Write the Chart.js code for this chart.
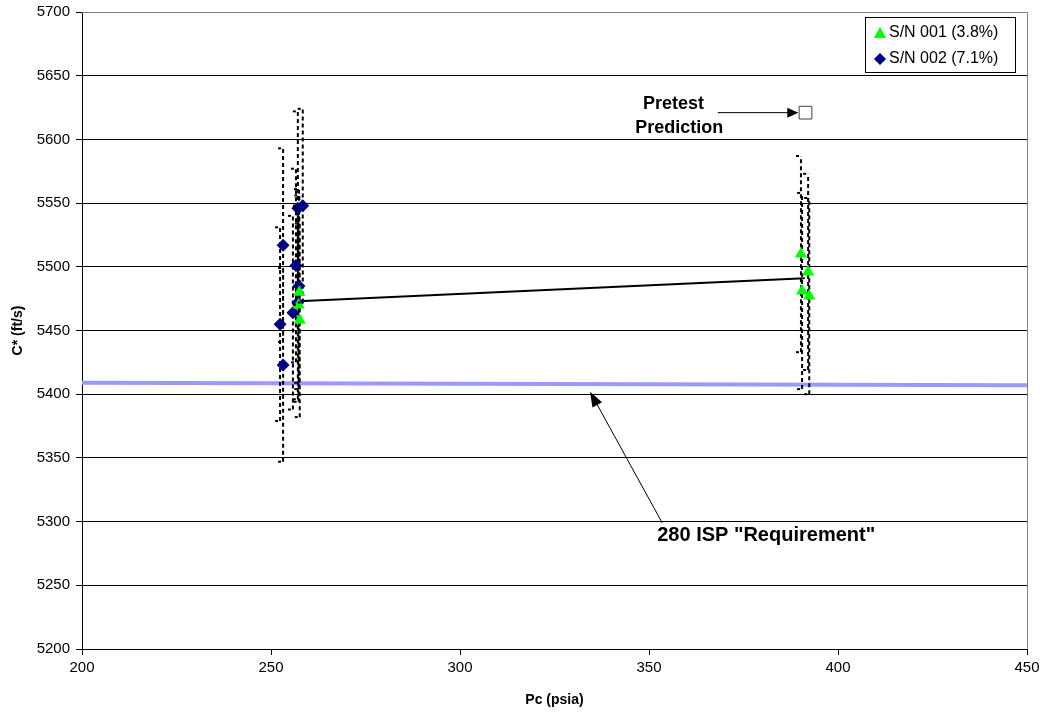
<!DOCTYPE html>
<html>
<head>
<meta charset="utf-8">
<script src="https://cdn.jsdelivr.net/npm/chart.js@4.4.0/dist/chart.umd.min.js"></script>
<style>
  html, body { margin: 0; padding: 0; background: #fff; }
  #wrap { width: 1044px; height: 714px; }
</style>
</head>
<body>
<div id="wrap"><canvas id="chart" width="1044" height="714"></canvas></div>
<script>
// S/N 001 (3.8%) - green triangles
const sn001Pc = [257.5, 257.3, 257.6, 390.2, 392.1, 390.5, 392.4];
const sn001Cstar = [5480, 5470, 5458, 5510, 5496, 5481, 5477];
const sn001Err = [76, 76, 76, 77, 77, 77, 77];

// S/N 002 (7.1%) - navy diamonds
const sn002Pc = [257.1, 258.4, 253.2, 256.6, 257.4, 257.1, 255.8, 252.4, 253.2];
const sn002Cstar = [5546, 5548, 5517, 5501, 5485, 5472, 5464, 5455, 5423];
const sn002Err = [76, 76, 76, 76, 76, 76, 76, 76, 76];

// average line, requirement line, pretest prediction
const avgPc = [257.2, 391.2];
const avgCstar = [5473, 5491];
const reqPc = [200, 450];
const reqCstar = [5409, 5407];
const pretestPc = [391.4];
const pretestCstar = [5621];

const toPoints = (xs, ys) => xs.map((x, i) => ({ x: x, y: ys[i] }));

function errorSegments(xs, ys, errs) {
    const pts = [];
    xs.forEach((x, i) => {
        pts.push({ x: x, y: ys[i] - errs[i] });
        pts.push({ x: x, y: ys[i] + errs[i] });
        pts.push({ x: x, y: null });
    });
    return pts;
}

const errData = errorSegments(sn001Pc, sn001Cstar, sn001Err)
    .concat(errorSegments(sn002Pc, sn002Cstar, sn002Err));

const FONT = '"Liberation Sans", Arial, sans-serif';
Chart.defaults.font.family = FONT;
Chart.defaults.font.size = 15;
Chart.defaults.color = '#000';

function arrow(ctx, x1, y1, x2, y2, head, width) {
    const ang = Math.atan2(y2 - y1, x2 - x1);
    ctx.beginPath();
    ctx.moveTo(x1, y1);
    ctx.lineTo(x2 - Math.cos(ang) * head * 0.8, y2 - Math.sin(ang) * head * 0.8);
    ctx.lineWidth = 1;
    ctx.strokeStyle = '#000';
    ctx.stroke();
    ctx.beginPath();
    ctx.moveTo(x2, y2);
    ctx.lineTo(x2 - Math.cos(ang) * head + Math.sin(ang) * width, y2 - Math.sin(ang) * head - Math.cos(ang) * width);
    ctx.lineTo(x2 - Math.cos(ang) * head - Math.sin(ang) * width, y2 - Math.sin(ang) * head + Math.cos(ang) * width);
    ctx.closePath();
    ctx.fillStyle = '#000';
    ctx.fill();
}

const extras = {
    id: 'extras',
    afterDatasetsDraw(chart) {
        const ctx = chart.ctx;
        const xs = chart.scales.x, ys = chart.scales.y;
        const a = chart.chartArea;
        ctx.save();

        // error bar caps
        ctx.strokeStyle = '#000';
        ctx.lineWidth = 2;
        const caps = (pcs, cs, es) => pcs.forEach((p, i) => {
            const px = xs.getPixelForValue(p);
            [cs[i] - es[i], cs[i] + es[i]].forEach(v => {
                const py = ys.getPixelForValue(v);
                ctx.beginPath();
                ctx.moveTo(px - 5, py);
                ctx.lineTo(px - 2, py);
                ctx.stroke();
            });
        });
        caps(sn001Pc, sn001Cstar, sn001Err);
        caps(sn002Pc, sn002Cstar, sn002Err);

        // plot frame (top/right)
        ctx.strokeStyle = '#808080';
        ctx.lineWidth = 1;
        ctx.beginPath();
        ctx.moveTo(a.left, a.top + 0.5);
        ctx.lineTo(a.right + 0.5, a.top + 0.5);
        ctx.lineTo(a.right + 0.5, a.bottom);
        ctx.stroke();

        // annotations
        ctx.fillStyle = '#000';
        ctx.font = 'bold 18px ' + FONT;
        ctx.textAlign = 'center';
        ctx.textBaseline = 'middle';
        ctx.fillText('Pretest', xs.getPixelForValue(356.5), ys.getPixelForValue(5628));
        ctx.fillText('Prediction', xs.getPixelForValue(358), ys.getPixelForValue(5609));
        arrow(ctx, xs.getPixelForValue(368.2), ys.getPixelForValue(5621),
            xs.getPixelForValue(389.5), ys.getPixelForValue(5621), 11, 5);

        ctx.font = 'bold 20px ' + FONT;
        ctx.fillText('280 ISP "Requirement"', xs.getPixelForValue(381), ys.getPixelForValue(5289));
        arrow(ctx, xs.getPixelForValue(353.5), ys.getPixelForValue(5299),
            xs.getPixelForValue(334.4), ys.getPixelForValue(5402), 15, 5.5);

        // legend box
        const lx = 865, ly = 17, lw = 150, lh = 55;
        ctx.fillStyle = '#fff';
        ctx.fillRect(lx, ly, lw, lh);
        ctx.strokeStyle = '#000';
        ctx.lineWidth = 1;
        ctx.strokeRect(lx + 0.5, ly + 0.5, lw, lh);
        ctx.font = '16px ' + FONT;
        ctx.textAlign = 'left';
        ctx.fillStyle = '#000';
        ctx.fillText('S/N 001 (3.8%)', lx + 24, ly + 16);
        ctx.fillText('S/N 002 (7.1%)', lx + 24, ly + 42);
        ctx.fillStyle = '#00ff00';
        ctx.beginPath();
        ctx.moveTo(lx + 15, ly + 10);
        ctx.lineTo(lx + 21, ly + 21);
        ctx.lineTo(lx + 9, ly + 21);
        ctx.closePath();
        ctx.fill();
        ctx.fillStyle = '#000080';
        ctx.beginPath();
        ctx.moveTo(lx + 15, ly + 36);
        ctx.lineTo(lx + 21, ly + 42);
        ctx.lineTo(lx + 15, ly + 48);
        ctx.lineTo(lx + 9, ly + 42);
        ctx.closePath();
        ctx.fill();

        ctx.restore();
    }
};

const ctx = document.getElementById('chart').getContext('2d');
const chart = new Chart(ctx, {
    type: 'scatter',
    data: {
        datasets: [
            {
                label: 'S/N 001 (3.8%)',
                data: toPoints(sn001Pc, sn001Cstar),
                pointStyle: 'triangle',
                pointRadius: 7,
                pointBackgroundColor: '#00ff00',
                pointBorderColor: '#00ff00',
                pointBorderWidth: 0,
                order: 0
            },
            {
                label: 'S/N 002 (7.1%)',
                data: toPoints(sn002Pc, sn002Cstar),
                pointStyle: 'rectRot',
                pointRadius: 6.5,
                pointBackgroundColor: '#000080',
                pointBorderColor: '#000080',
                pointBorderWidth: 0,
                order: 1
            },
            {
                label: 'Pretest Prediction',
                data: toPoints(pretestPc, pretestCstar),
                pointStyle: 'rect',
                pointRadius: 9,
                pointBackgroundColor: '#fff',
                pointBorderColor: '#404040',
                pointBorderWidth: 1,
                order: 2
            },
            {
                label: 'Average',
                data: toPoints(avgPc, avgCstar),
                showLine: true,
                borderColor: '#000',
                borderWidth: 2,
                pointRadius: 0,
                order: 3
            },
            {
                label: 'Error',
                data: errData,
                showLine: true,
                spanGaps: false,
                borderColor: '#000',
                borderWidth: 2,
                borderDash: [4, 3],
                pointRadius: 0,
                order: 4
            },
            {
                label: '280 ISP Requirement',
                data: toPoints(reqPc, reqCstar),
                showLine: true,
                borderColor: '#9999ff',
                borderWidth: 4,
                pointRadius: 0,
                order: 5
            }
        ]
    },
    options: {
        responsive: false,
        animation: false,
        layout: { padding: { top: 12, right: 17, left: 0, bottom: 0 } },
        plugins: {
            legend: { display: false },
            tooltip: { enabled: false }
        },
        scales: {
            x: {
                type: 'linear',
                min: 200,
                max: 450,
                ticks: { stepSize: 50, padding: 4, font: { size: 15 }, callback: v => String(v) },
                grid: { drawOnChartArea: false, color: '#000', tickLength: 6 },
                border: { color: '#000', width: 1 },
                title: {
                    display: true,
                    text: 'Pc (psia)',
                    font: { size: 14, weight: 'bold' },
                    padding: { top: 8, bottom: 5 }
                },
                afterFit(scale) {
                    scale.height = 65;
                    scale.paddingLeft = 0;
                    scale.paddingRight = 0;
                }
            },
            y: {
                min: 5200,
                max: 5700,
                ticks: { stepSize: 50, padding: 6, font: { size: 15 }, callback: v => String(v) },
                grid: { color: '#000', tickLength: 6 },
                border: { color: '#000', width: 1 },
                title: {
                    display: true,
                    text: 'C* (ft/s)',
                    font: { size: 14, weight: 'bold' },
                    padding: { top: 10, bottom: 4 }
                },
                afterFit(scale) {
                    scale.width = 82;
                    scale.paddingTop = 0;
                    scale.paddingBottom = 0;
                }
            }
        }
    },
    plugins: [extras]
});
</script>
</body>
</html>
